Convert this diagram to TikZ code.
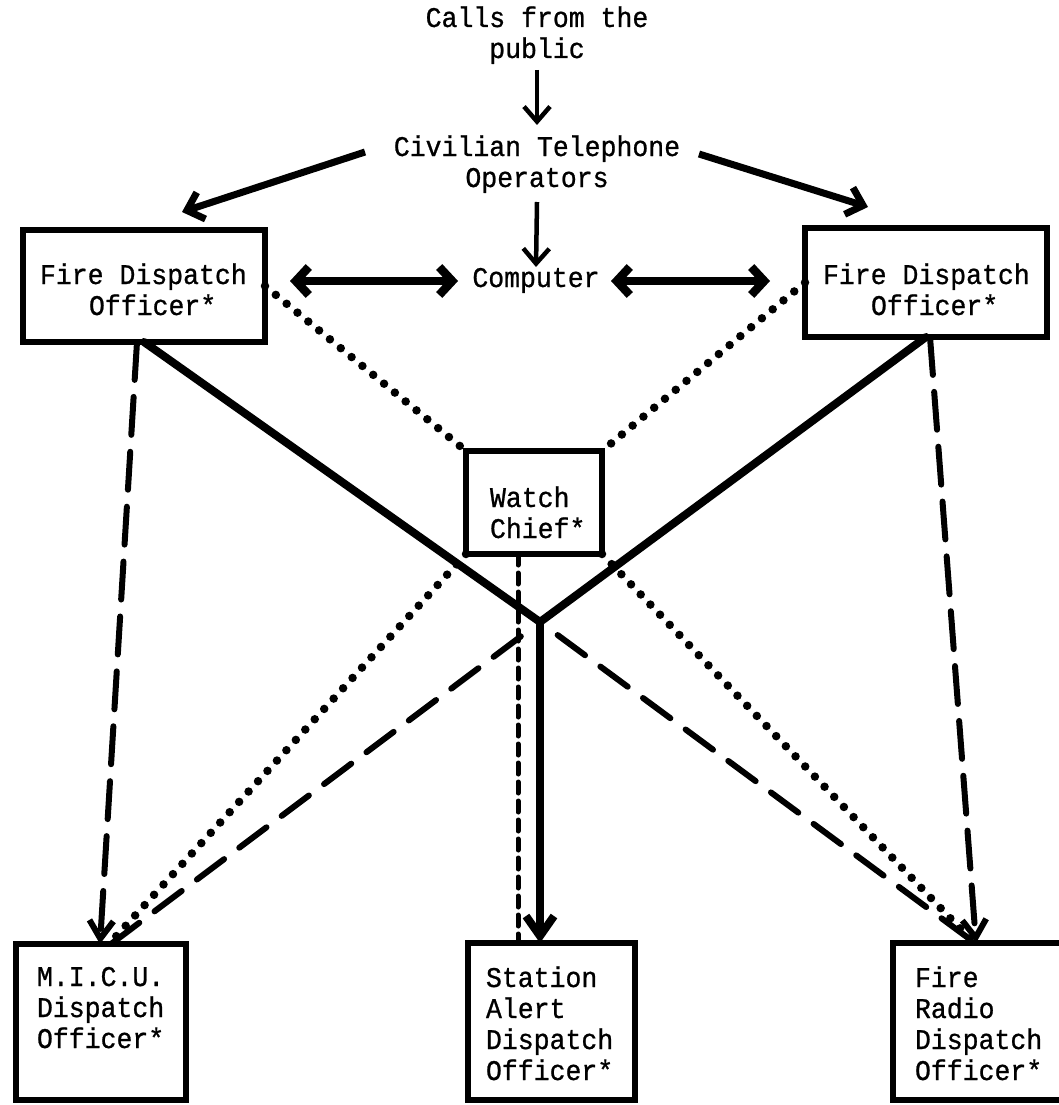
\documentclass[tikz,border=0pt]{standalone}
\usepackage{fontspec}
\usetikzlibrary{arrows.meta,calc}
\newfontfamily\tw[FakeBold=0.8,FakeStretch=0.93]{Liberation Mono}
\begin{document}
\begin{tikzpicture}[x=1pt,y=-1pt,
  every node/.style={font=\tw\fontsize{28.5}{31}\selectfont, inner sep=0pt, outer sep=0pt},
  boxst/.style={draw, line width=6.5pt, line join=miter},
  lblc/.style={align=center, anchor=base},
  lbll/.style={align=left, anchor=base west},
  thinarr/.style={line width=4.5pt, -{Straight Barb[length=15pt,width=26pt]}},
  midarr/.style={line width=7pt, -{Straight Barb[length=15pt,width=28pt]}},
  dblarr/.style={line width=8.5pt, {Straight Barb[length=13pt,width=28pt]}-{Straight Barb[length=13pt,width=28pt]}},
  solidln/.style={line width=8pt, line cap=round, line join=round},
  solidarr/.style={line width=8pt, -{Straight Barb[length=20pt,width=28pt]}},
  dashln/.style={line width=6pt, dash pattern=on 34pt off 19pt, line cap=round},
  dasharr/.style={line width=6pt, dash pattern=on 38pt off 17pt, line cap=round, -{Straight Barb[length=18pt,width=24pt]}},
  dots/.style={line width=8.5pt, dash pattern=on 0pt off 14pt, line cap=round},
  shortdash/.style={line width=5pt, dash pattern=on 11pt off 8pt, line cap=round}
]
\useasboundingbox[fill=white] (0,0) rectangle (1059,1105);

% text nodes (base = baseline of last line)
\node[lblc] (calls) at (537,58) {Calls from the\\public};
\node[lblc] (cto) at (537,187) {Civilian Telephone\\Operators};
\node[lblc] (comp) at (536,287) {Computer};

% boxes
\node[boxst, minimum width=242pt, minimum height=112pt] (fdoL) at (144,286) {};
\node[boxst, minimum width=242pt, minimum height=109pt] (fdoR) at (926,282.5) {};
\node[boxst, minimum width=136pt, minimum height=103pt] (wc) at (534,502.5) {};
\node[boxst, minimum width=170pt, minimum height=156pt] (micu) at (101,1022) {};
\node[boxst, minimum width=167pt, minimum height=157pt] (sta) at (551.5,1021.5) {};
\node[boxst, minimum width=170pt, minimum height=157pt] (fr) at (978,1021.5) {};

% box labels
\node[lbll] (fdoLt) at (40,315) {Fire Dispatch\\\hspace*{49pt}Officer*};
\node[lbll] (fdoRt) at (823,315) {Fire Dispatch\\\hspace*{48pt}Officer*};
\node[lbll] (wct) at (490,538) {Watch\\Chief*};
\node[lbll] (micut) at (37,1048) {M.I.C.U.\\Dispatch\\Officer*};
\node[lbll] (stat) at (486,1080) {Station\\Alert\\Dispatch\\Officer*};
\node[lbll] (frt) at (915,1080) {Fire\\Radio\\Dispatch\\Officer*};

\coordinate (jn) at (540,622);
\coordinate (wcb) at ($(wc.south)+(-16,0)$);

% top arrows
\draw[thinarr] ($(calls.base)+(0,12)$) -- ($(cto.base)+(0,-62)$);
\draw[thinarr] ($(cto.base)+(0,15)$) -- ($(comp.base)+(0,-20)$);
\draw[midarr] ($(cto.base)+(-172,-35)$) -- ($(fdoL.north)+(38,-18)$);
\draw[midarr] ($(cto.base)+(162,-33)$) -- ($(fdoR.north)+(-58,-21)$);
\draw[dblarr] ($(fdoL.east)+(25,-5)$) -- ($(comp.base)+(-78,-6)$);
\draw[dblarr] ($(comp.base)+(75,-6)$) -- ($(fdoR.west)+(-35,-1.5)$);

% dotted links
\draw[dots] (fdoL.east) -- (wc.north west);
\draw[dots] (fdoR.west) -- (wc.north east);
\draw[dots] (wc.south west) -- ($(micu.north)+(8,0)$);
\draw[dots] (wc.south east) -- ($(fr.north)+(-4,0)$);
\draw[shortdash] (wcb) -- (wcb |- sta.north);

% dashed links
\draw[dasharr] ($(fdoL.south)+(-7,0)$) -- ($(micu.north)+(-1,0)$);
\draw[dasharr] ($(fdoR.south)+(4,0)$) -- ($(fr.north)+(-2,0)$);
\draw[dashln, shorten <=24pt] (jn) -- ($(micu.north)+(10,0)$);
\draw[dashln, shorten <=22pt] (jn) -- ($(fr.north)+(-3,0)$);

% solid links
\draw[solidln] (fdoL.south) -- (jn) -- (fdoR.south);
\draw[solidarr] (jn) -- (jn |- sta.north);
\end{tikzpicture}
\end{document}
